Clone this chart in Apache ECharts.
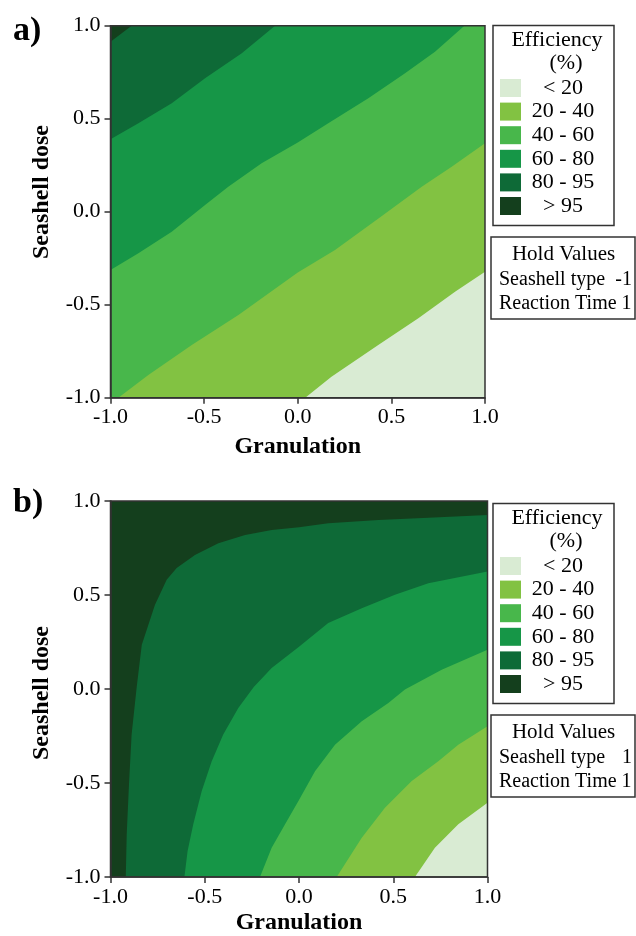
<!DOCTYPE html>
<html>
<head>
<meta charset="utf-8">
<script src="https://cdn.jsdelivr.net/npm/echarts@6/dist/echarts.min.js"></script>
<style>
  html, body { margin: 0; background: #fff; }
  #chart { width: 636px; height: 936px; }
</style>
</head>
<body>
<div id="chart"></div>
<script>
const serif = 'Liberation Serif'
const levelNames = ['< 20', '20 - 40', '40 - 60', '60 - 80', '80 - 95', '> 95']
const levelColors = ['#d9ebd3', '#82c242', '#48b74b', '#169647', '#0e6a37', '#143f1d']
const holdType = ['-1', '1']

// full plot extent (granulation, seashell dose)
const plotBox = [[-1, -1], [1, -1], [1, 1], [-1, 1]]

// a) contour edges, low -> high
const aEdge20 = [[0.04, -1], [0.18, -0.887], [0.43, -0.717], [0.644, -0.573], [0.84, -0.43], [1, -0.323]]
const aEdge40 = [[-0.958, -1], [-0.798, -0.878], [-0.566, -0.717], [-0.317, -0.555], [0, -0.327], [0.199, -0.206], [0.44, -0.03], [0.662, 0.134], [0.822, 0.242], [1, 0.368]]
const aEdge60 = [[-1, -0.313], [-0.851, -0.224], [-0.673, -0.108], [-0.495, 0.036], [-0.371, 0.134], [-0.193, 0.26], [0, 0.372], [0.163, 0.475], [0.377, 0.61], [0.573, 0.744], [0.733, 0.86], [0.89, 1]]
const aEdge80 = [[-1, 0.389], [-0.851, 0.475], [-0.673, 0.583], [-0.495, 0.717], [-0.299, 0.852], [-0.121, 1]]
const aEdge95 = [[-1, 0.914], [-0.887, 1]]

// b) contour edges
const bEdge20 = [[0.615, -1], [0.721, -0.844], [0.845, -0.72], [1, -0.605]]
const bEdge40 = [[0.2, -1], [0.333, -0.791], [0.456, -0.632], [0.598, -0.49], [0.739, -0.384], [0.845, -0.296], [1, -0.198]]
const bEdge60 = [[-0.207, -1], [-0.145, -0.844], [-0.074, -0.72], [0, -0.59], [0.085, -0.437], [0.191, -0.296], [0.333, -0.172], [0.474, -0.074], [0.562, -0.003], [0.757, 0.103], [1, 0.209]]
const bEdge80 = [[-0.608, -1], [-0.591, -0.862], [-0.561, -0.72], [-0.516, -0.543], [-0.463, -0.384], [-0.402, -0.242], [-0.322, -0.101], [-0.24, 0.01], [-0.145, 0.112], [0, 0.225], [0.155, 0.351], [0.333, 0.43], [0.509, 0.501], [0.686, 0.563], [1, 0.625]]
const bEdge95 = [[-0.919, -1], [-0.914, -0.773], [-0.902, -0.508], [-0.888, -0.242], [-0.861, 0.01], [-0.834, 0.235], [-0.799, 0.342], [-0.764, 0.448], [-0.702, 0.581], [-0.649, 0.643], [-0.552, 0.713], [-0.428, 0.775], [-0.286, 0.819], [-0.145, 0.846], [0, 0.86], [0.155, 0.882], [0.421, 0.899], [0.686, 0.911], [1, 0.926]]

// close an edge round the top-left (higher efficiency) side
function closeHigh(edge) {
  const pts = edge.slice()
  const first = edge[0]
  const last = edge[edge.length - 1]
  if (last[1] < 1) pts.push([1, 1])
  pts.push([-1, 1])
  if (first[0] > -1) pts.push([-1, -1])
  return pts
}

const panels = [
  [plotBox, aEdge20, aEdge40, aEdge60, aEdge80, aEdge95],
  [plotBox, bEdge20, bEdge40, bEdge60, bEdge80, bEdge95]
]

const grids = [
  { left: 110.5, top: 25.7, width: 374.5, height: 372 },
  { left: 110.5, top: 501, width: 377, height: 376.7 }
]

const lineStyle = { color: '#333', width: 1.5 }

function contourSeries(edges, gi) {
  return edges.map((edge, k) => {
    const pts = k === 0 ? edge : closeHigh(edge)
    return {
      type: 'custom',
      name: levelNames[k],
      coordinateSystem: 'cartesian2d',
      xAxisIndex: gi,
      yAxisIndex: gi,
      silent: true,
      animation: false,
      itemStyle: { color: levelColors[k] },
      data: [[0, 0]],
      renderItem: (params, api) => ({
        type: 'polygon',
        shape: { points: pts.map(p => api.coord(p)) },
        style: { fill: api.visual('color') }
      })
    }
  })
}

function txt(text, x, y, size, opts) {
  return Object.assign({
    type: 'text',
    x: x,
    y: y,
    silent: true,
    style: {
      text: text,
      font: size + 'px "' + serif + '"',
      fill: '#000',
      align: 'center',
      verticalAlign: 'middle'
    }
  }, opts || {})
}

const graphic = []
;[0, 1].forEach(i => {
  const dy = i ? 478 : 0
  graphic.push({
    type: 'rect', silent: true,
    shape: { x: 493, y: 25.5 + dy, width: 121, height: 200 },
    style: { fill: '#fff', stroke: '#333', lineWidth: 1.5 }
  })
  graphic.push(txt('Efficiency', 557, 40 + dy, 22))
  graphic.push(txt('(%)', 566, 63 + dy, 22))
  graphic.push({
    type: 'rect', silent: true,
    shape: { x: 491, y: 237 + dy, width: 144, height: 82 },
    style: { fill: '#fff', stroke: '#333', lineWidth: 1.5 }
  })
  graphic.push(txt('Hold Values', 563.5, 254 + dy, 21))
  const t1 = txt('Seashell type', 499, 280 + dy, 20)
  t1.style.align = 'left'
  graphic.push(t1)
  const t2 = txt(holdType[i], 632, 280 + dy, 20)
  t2.style.align = 'right'
  graphic.push(t2)
  const t3 = txt('Reaction Time 1', 499, 304 + dy, 20)
  t3.style.align = 'left'
  graphic.push(t3)
  const lab = txt(i ? 'b)' : 'a)', 13, i ? 503 : 31, 34)
  lab.style.align = 'left'
  lab.style.font = 'bold 34px "' + serif + '"'
  graphic.push(lab)
  const yt = txt('Seashell dose', 42, i ? 693 : 192, 24, { rotation: Math.PI / 2 })
  yt.style.font = 'bold 24px "' + serif + '"'
  graphic.push(yt)
})

const chart = echarts.init(document.getElementById('chart'), null, { renderer: 'canvas' })
chart.setOption({
  animation: false,
  backgroundColor: '#fff',
  grid: grids.map(g => Object.assign({
    show: true,
    borderColor: '#333',
    borderWidth: 1.5,
    backgroundColor: 'transparent',
    z: 5
  }, g)),
  xAxis: [0, 1].map(gi => ({
    type: 'value',
    gridIndex: gi,
    min: -1,
    max: 1,
    interval: 0.5,
    z: 5,
    name: 'Granulation',
    nameLocation: 'middle',
    nameGap: gi ? 46 : 49,
    nameTextStyle: { fontFamily: serif, fontSize: 24, fontWeight: 'bold', color: '#000', verticalAlign: 'middle' },
    axisLine: { show: true, onZero: false, lineStyle: lineStyle },
    axisTick: { show: true, length: 6, lineStyle: lineStyle },
    axisLabel: { margin: 9, fontFamily: serif, fontSize: 22, color: '#000', formatter: v => v.toFixed(1) },
    splitLine: { show: false }
  })),
  yAxis: [0, 1].map(gi => ({
    type: 'value',
    gridIndex: gi,
    min: -1,
    max: 1,
    interval: 0.5,
    z: 5,
    axisLine: { show: true, onZero: false, lineStyle: lineStyle },
    axisTick: { show: true, length: 6, lineStyle: lineStyle },
    axisLabel: { margin: 10, fontFamily: serif, fontSize: 22, color: '#000', formatter: v => v.toFixed(1) },
    splitLine: { show: false }
  })),
  legend: [0, 1].map(i => ({
    orient: 'vertical',
    left: 500,
    top: 77 + i * 478,
    padding: 0,
    z: 10,
    icon: 'rect',
    itemWidth: 21,
    itemHeight: 18,
    itemGap: 1.6,
    selectedMode: false,
    data: levelNames,
    formatter: n => '{t|' + n + '}',
    textStyle: {
      rich: {
        t: { width: 74, align: 'center', fontFamily: serif, fontSize: 22, lineHeight: 18, color: '#000' }
      }
    }
  })),
  graphic: graphic,
  series: contourSeries(panels[0], 0).concat(contourSeries(panels[1], 1))
})
</script>
</body>
</html>
